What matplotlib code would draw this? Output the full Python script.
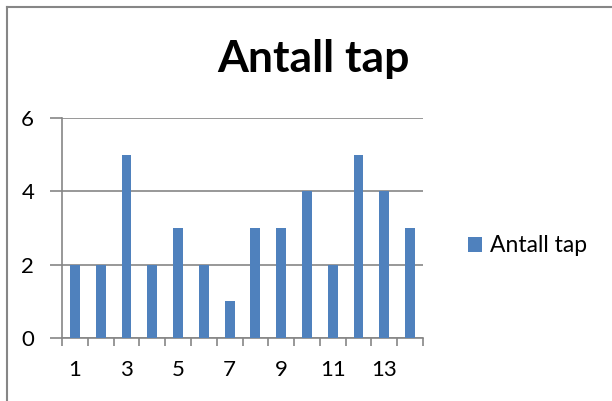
import matplotlib

matplotlib.use("Agg")
import matplotlib.pyplot as plt
from matplotlib.lines import Line2D

# data
categories = list(range(1, 15))
antall_tap = [2, 2, 5, 2, 3, 2, 1, 3, 3, 4, 2, 5, 4, 3]
tick_labels = ["1", "3", "5", "7", "9", "11", "13"]
series_name = "Antall tap"

BLUE = "#4F81BD"
GRID = "#868686"
W, H = 612, 401

plt.rcParams["font.family"] = ["Lato", "DejaVu Sans"]
fig = plt.figure(figsize=(W / 100, H / 100), dpi=100)

# outer chart border: only the top and left edges show in the crop
bx, by = 6.5 / W, 1 - 6.5 / H
fig.lines.append(Line2D([bx, 1.0], [by, by], transform=fig.transFigure,
                        color=GRID, linewidth=1.5))
fig.lines.append(Line2D([bx, bx], [0.0, by], transform=fig.transFigure,
                        color=GRID, linewidth=1.5))

left, right, top, bottom = 62, 423, 118, 338
ax = fig.add_axes([left / W, 1 - bottom / H, (right - left) / W, (bottom - top) / H])

ax.bar(categories, antall_tap, width=0.38, color=BLUE, label=series_name, zorder=3)
ax.set_xlim(0.5, len(categories) + 0.5)
ax.set_ylim(0, 6)
ax.set_yticks([0, 2, 4, 6])
ax.yaxis.grid(True, color=GRID, linewidth=1.2, zorder=0)

ax.set_xticks(categories[::2])
ax.set_xticklabels(tick_labels)
ax.set_xticks([c + 0.5 for c in [0] + categories], minor=True)
ax.tick_params(axis="x", which="major", length=0, pad=15.5, labelsize=16)
ax.tick_params(axis="x", which="minor", length=6, width=1.2, color=GRID, direction="out")
ax.tick_params(axis="y", length=9, width=1.2, color=GRID, pad=11, labelsize=16)

for side in ("top", "right"):
    ax.spines[side].set_visible(False)
for side in ("left", "bottom"):
    ax.spines[side].set_color(GRID)
    ax.spines[side].set_linewidth(1.2)

fig.text(313 / W, 1 - 59 / H, "Antall tap", ha="center", va="center",
         fontsize=32, fontweight="bold")

ax.legend(loc="center left", bbox_to_anchor=(452 / W, 1 - 246 / H),
          bbox_transform=fig.transFigure, frameon=False, fontsize=16.5,
          handlelength=0.6, handleheight=0.6, handletextpad=0.35,
          borderpad=0.2)

fig.savefig("out.png", dpi=100)
